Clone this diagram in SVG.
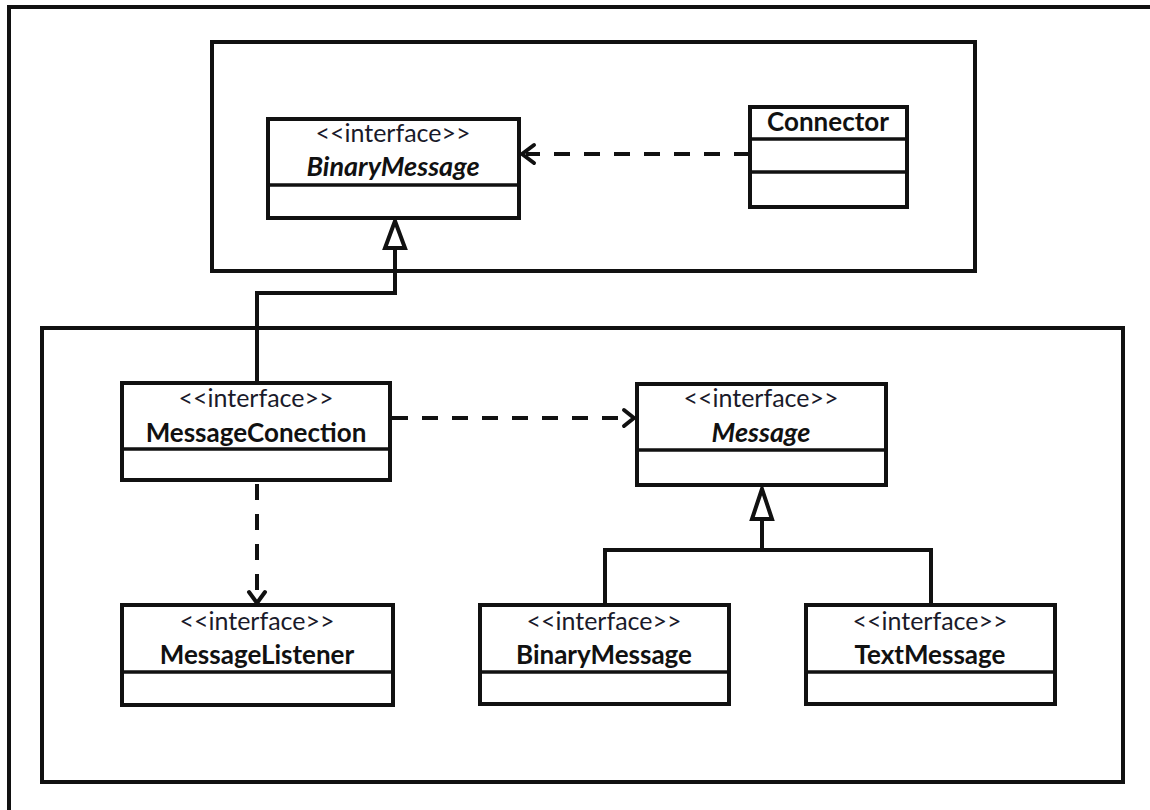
<svg xmlns="http://www.w3.org/2000/svg" width="1150" height="810" viewBox="0 0 1150 810">
  <defs>
    <style>
      .frame { fill: none; stroke: #111; stroke-width: 4; }
      .box { fill: #fff; stroke: #111; stroke-width: 4; }
      .div { stroke: #111; stroke-width: 3.5; }
      .stereo { font-family: "Lato", "Open Sans", sans-serif; font-size: 25px; fill: #1a1a2a; text-anchor: middle; }
      .name { font-family: "Lato", "Open Sans", sans-serif; font-size: 26px; font-weight: bold; fill: #111; text-anchor: middle; }
      .abstract { font-style: italic; font-size: 27px; }
      .dash { fill: none; stroke: #111; stroke-width: 4; stroke-dasharray: 16 14; }
      .solid { fill: none; stroke: #111; stroke-width: 4; }
      .head { fill: none; stroke: #111; stroke-width: 4; stroke-linecap: round; stroke-linejoin: round; }
      .tri { fill: #fff; stroke: #111; stroke-width: 4; stroke-linejoin: miter; }
    </style>
  </defs>

  <!-- outer frame, open beyond the canvas on the right and bottom -->
  <path class="frame" d="M9 820 V7 H1160"/>

  <!-- packages -->
  <rect id="pkg-top" class="frame" x="212" y="42" width="763" height="229"/>
  <rect id="pkg-bottom" class="frame" x="42" y="328" width="1081" height="454"/>

  <!-- connectors -->
  <g id="connectors">
    <!-- Connector uses BinaryMessage -->
    <path class="dash" d="M750 154 H526"/>
    <path class="head" d="M534 145 L522 154 L534 163"/>

    <!-- MessageConection extends BinaryMessage -->
    <path class="solid" d="M257 383 V293 H395 V248"/>
    <path class="tri" d="M395 221 L385 248 L405 248 Z"/>

    <!-- MessageConection uses Message -->
    <path class="dash" d="M392 418 H630"/>
    <path class="head" d="M624 410 L634 418 L624 426"/>

    <!-- MessageConection uses MessageListener -->
    <path class="dash" d="M257 484 V598"/>
    <path class="head" d="M249 592 L257 603 L265 592"/>

    <!-- BinaryMessage / TextMessage extend Message -->
    <path class="solid" d="M605 605 V550 H931 V605 M762 550 V519"/>
    <path class="tri" d="M762 489 L752 519 L772 519 Z"/>
  </g>

  <!-- nodes -->
  <g id="node-binarymessage-top">
    <rect class="box" x="268" y="119" width="251" height="99"/>
    <line class="div" x1="268" y1="185" x2="519" y2="185"/>
    <text class="stereo" x="393" y="142">&lt;&lt;interface&gt;&gt;</text>
    <text class="name abstract" x="393" y="176">BinaryMessage</text>
  </g>

  <g id="node-connector">
    <rect class="box" x="750" y="107" width="157" height="100"/>
    <line class="div" x1="750" y1="139" x2="907" y2="139"/>
    <line class="div" x1="750" y1="172" x2="907" y2="172"/>
    <text class="name" x="828" y="131">Connector</text>
  </g>

  <g id="node-messageconection">
    <rect class="box" x="122" y="383" width="268" height="97"/>
    <line class="div" x1="122" y1="449" x2="390" y2="449"/>
    <text class="stereo" x="256" y="407">&lt;&lt;interface&gt;&gt;</text>
    <text class="name" x="256" y="442">MessageConection</text>
  </g>

  <g id="node-message">
    <rect class="box" x="637" y="384" width="249" height="101"/>
    <line class="div" x1="637" y1="450" x2="886" y2="450"/>
    <text class="stereo" x="761" y="407">&lt;&lt;interface&gt;&gt;</text>
    <text class="name abstract" x="761" y="442">Message</text>
  </g>

  <g id="node-messagelistener">
    <rect class="box" x="122" y="605" width="271" height="100"/>
    <line class="div" x1="122" y1="672" x2="393" y2="672"/>
    <text class="stereo" x="257" y="630">&lt;&lt;interface&gt;&gt;</text>
    <text class="name" x="257" y="664">MessageListener</text>
  </g>

  <g id="node-binarymessage">
    <rect class="box" x="480" y="605" width="249" height="99"/>
    <line class="div" x1="480" y1="672" x2="729" y2="672"/>
    <text class="stereo" x="604" y="630">&lt;&lt;interface&gt;&gt;</text>
    <text class="name" x="604" y="664">BinaryMessage</text>
  </g>

  <g id="node-textmessage">
    <rect class="box" x="806" y="605" width="249" height="99"/>
    <line class="div" x1="806" y1="672" x2="1055" y2="672"/>
    <text class="stereo" x="930" y="630">&lt;&lt;interface&gt;&gt;</text>
    <text class="name" x="930" y="664">TextMessage</text>
  </g>
</svg>
